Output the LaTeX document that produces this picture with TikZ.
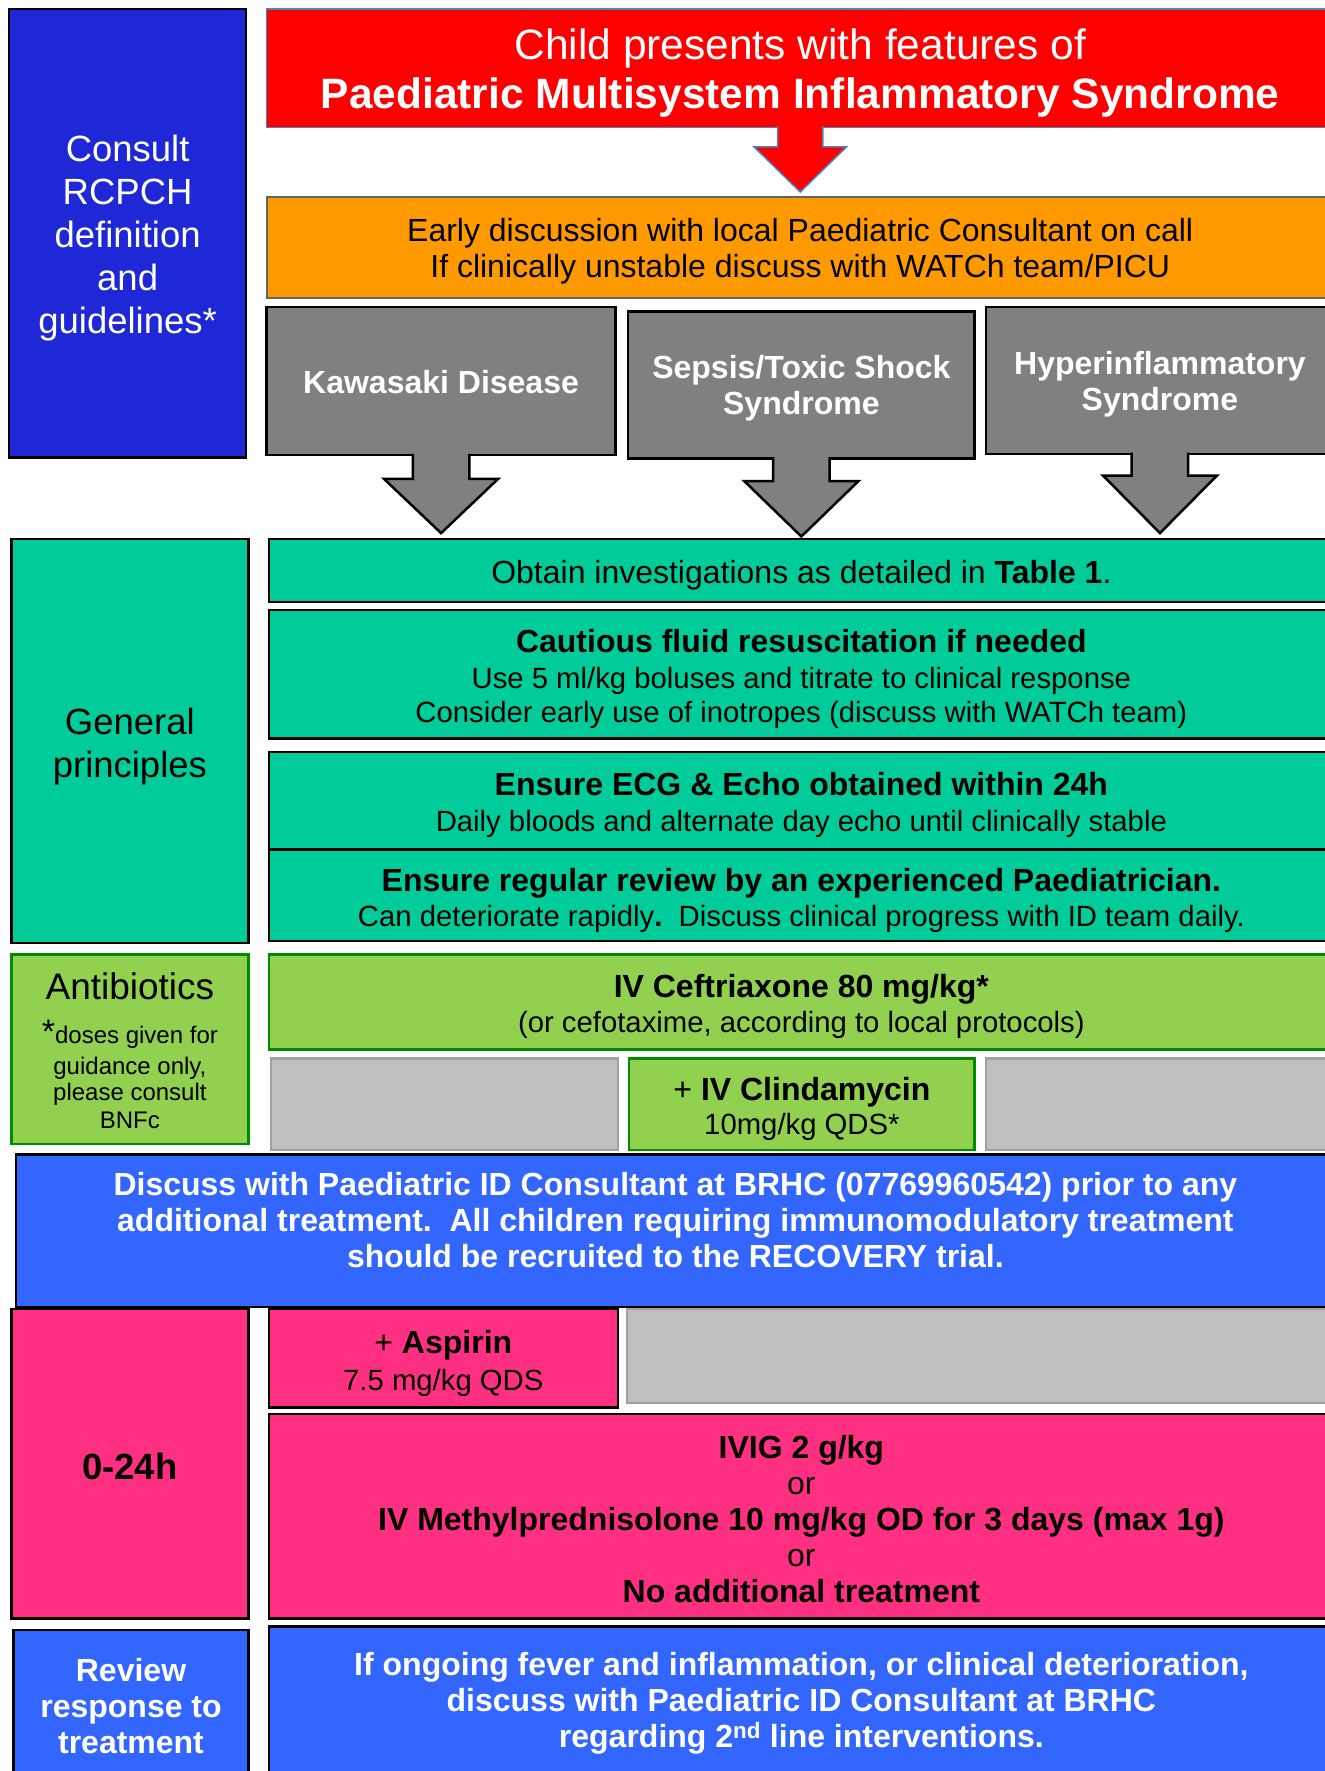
\documentclass[tikz,border=0pt]{standalone}
\usepackage{fontspec}
\setmainfont{Liberation Sans}
\usetikzlibrary{calc}
\newcommand\fs[2]{\fontsize{#1}{#2}\selectfont}
\newcommand\subl{\fs{29.3}{34}}
\definecolor{cBlueDark}{RGB}{30,40,215}
\definecolor{cRed}{RGB}{255,0,0}
\definecolor{cRedEdge}{RGB}{79,129,189}
\definecolor{cOrange}{RGB}{255,153,0}
\definecolor{cOrangeEdge}{RGB}{100,100,100}
\definecolor{cGray}{RGB}{128,128,128}
\definecolor{cTeal}{RGB}{0,204,153}
\definecolor{cLime}{RGB}{146,208,80}
\definecolor{cLimeEdge}{RGB}{0,140,0}
\definecolor{cLight}{RGB}{191,191,191}
\definecolor{cLightEdge}{RGB}{160,160,160}
\definecolor{cBlue}{RGB}{51,102,255}
\definecolor{cPink}{RGB}{255,48,130}
% box with text: name x1 y1 x2 y2 style textshift text
\newcommand\bx[8]{\node[#6, anchor=north west, minimum width={(#4-#2)*1.1296pt}, minimum height={(#5-#3)*1.1296pt}] (#1) at (#2,#3) {};
\node[#6, draw=none, fill=none] (#1t) at ($(#1.center)+(0,#7)$) {#8};}
% empty box
\newcommand\bxe[6]{\node[#6, anchor=north west, minimum width={(#4-#2)*1.1296pt}, minimum height={(#5-#3)*1.1296pt}] (#1) at (#2,#3) {};}
\newcommand\barrow[6]{\filldraw[#6] ($(#1.south)+(-#2,-1.2)$) -- ($(#1.south)+(-#2,#4)$) -- ($(#1.south)+(-#3,#4)$) -- ($(#1.south)+(0,#5)$) -- ($(#1.south)+(#3,#4)$) -- ($(#1.south)+(#2,#4)$) -- ($(#1.south)+(#2,-1.2)$);}
\begin{document}
\begin{tikzpicture}[x=1.1296pt,y=-1.1296pt,
  box/.style={inner sep=0pt, outer sep=0pt, align=center, line width=2.5pt, draw=black, font=\fs{32}{36}},
  sidebox/.style={box, font=\fs{36.5}{43}},
  titlebox/.style={box, fill=cRed, draw=cRedEdge, line width=1.5pt, text=white, font=\fs{42.5}{48.6}},
  orangebox/.style={box, fill=cOrange, draw=cOrangeEdge, line width=2pt},
  graybox/.style={box, fill=cGray, text=white, font=\fs{32}{36}\bfseries},
  tealbox/.style={box, fill=cTeal},
  limebox/.style={box, fill=cLime, draw=cLimeEdge},
  lightbox/.style={box, fill=cLight, draw=cLightEdge},
  bluebox/.style={box, fill=cBlue, text=white, font=\fs{32}{36}\bfseries},
  pinkbox/.style={box, fill=cPink},
  garrow/.style={fill=cGray, draw=black, line width=2.5pt, line join=miter},
  rarrow/.style={fill=cRed, draw=cRedEdge, line width=1.5pt, line join=miter}]
\useasboundingbox (0,0) rectangle (1173,1568);
\begin{scope}
\clip (0,0) rectangle (1173,1568);
% top
\bx{consult}{8}{8}{218}{405}{sidebox, fill=cBlueDark, text=white}{4}{Consult\\RCPCH\\definition\\and\\guidelines*}
\bx{title}{236}{8}{1181}{113}{titlebox}{4}{Child presents with features of\\\bfseries Paediatric Multisystem Inflammatory Syndrome}
\bx{early}{236}{174}{1181}{264}{orangebox}{3.5}{Early discussion with local Paediatric Consultant on call\\If clinically unstable discuss with WATCh team/PICU}
\bx{kaw}{236}{272}{545}{403}{graybox}{1}{Kawasaki Disease}
\bx{sepsis}{556}{276}{863}{406}{graybox}{3}{Sepsis/Toxic Shock\\Syndrome}
\bx{hyper}{873}{272}{1181}{402}{graybox}{3.5}{Hyperinflammatory\\Syndrome}
\barrow{title}{20}{41}{17}{57}{rarrow}
\barrow{kaw}{25}{50.5}{21}{69}{garrow}
\barrow{sepsis}{25}{50.5}{20}{69}{garrow}
\barrow{hyper}{25}{50.5}{19}{70}{garrow}
% general principles
\bx{general}{10}{477}{220}{835}{sidebox, fill=cTeal}{5}{General\\principles}
\bx{obtain}{238}{477}{1181}{533}{tealbox}{4}{Obtain investigations as detailed in {\bfseries Table 1}.}
\bx{fluid}{238}{540}{1181}{654}{tealbox}{4}{{\bfseries Cautious fluid resuscitation if needed}\\{\subl Use 5 ml/kg boluses and titrate to clinical response}\\[-2pt]{\subl Consider early use of inotropes (discuss with WATCh team)}}
\bx{ecg}{238}{666}{1181}{752}{tealbox}{4}{{\bfseries Ensure ECG \& Echo obtained within 24h}\\{\subl Daily bloods and alternate day echo until clinically stable}}
\bx{review}{238}{752}{1181}{833}{tealbox}{4.5}{{\bfseries Ensure regular review by an experienced Paediatrician.}\\[-1pt]{\subl Can deteriorate rapidly{\bfseries .}\ \ Discuss clinical progress with ID team daily.}}
% antibiotics
\bx{anti}{10}{845}{220}{1013}{limebox}{1.5}{{\fs{37}{43}Antibiotics}\\[7.6pt]{\fs{24}{27}{\fs{34}{27}*}doses given for}\\[-4.5pt]{\fs{24}{27}guidance only,}\\[-10.1pt]{\fs{24}{27}please consult}\\[-7.9pt]{\fs{24}{27}BNFc}}
\bx{ceft}{238}{845}{1181}{929}{limebox}{4.5}{{\bfseries IV Ceftriaxone 80 mg/kg*}\\[-1pt]{\subl (or cefotaxime, according to local protocols)}}
\bxe{grayA}{240}{937}{547}{1018}{lightbox}
\bx{clinda}{557}{937}{863}{1018}{limebox}{4}{+ {\bfseries IV Clindamycin}\\[-2pt]{\subl 10mg/kg QDS*}}
\bxe{grayB}{873}{937}{1181}{1018}{lightbox}
% discuss
\bxe{discuss}{14}{1022}{1181}{1157}{bluebox}
\node[bluebox, draw=none, fill=none] (discusst) at (598,1080) {Discuss with Paediatric ID Consultant at BRHC (07769960542) prior to any\\additional treatment.\ \ All children requiring immunomodulatory treatment\\should be recruited to the RECOVERY trial.};
% 0-24h
\bx{hours}{10}{1159}{220}{1433}{pinkbox, font=\fs{36.5}{43}\bfseries}{2}{0-24h}
\bx{aspirin}{238}{1159}{547}{1246}{pinkbox}{5}{+ {\bfseries Aspirin}\\[1pt]{\subl 7.5 mg/kg QDS}}
\bxe{grayC}{555}{1159}{1181}{1242}{lightbox}
\bx{ivig}{238}{1252}{1181}{1433}{pinkbox}{2.5}{{\bfseries IVIG 2 g/kg}\\or\\{\bfseries IV Methylprednisolone 10 mg/kg OD for 3 days (max 1g)}\\or\\{\bfseries No additional treatment}}
% review response
\bx{respond}{12}{1443}{220}{1580}{bluebox}{-1}{Review\\response to\\treatment}
\bx{second}{238}{1440}{1181}{1572}{bluebox}{2}{If ongoing fever and inflammation, or clinical deterioration,\\discuss with Paediatric ID Consultant at BRHC\\regarding 2\textsuperscript{nd} line interventions.}
\end{scope}
\end{tikzpicture}
\end{document}
